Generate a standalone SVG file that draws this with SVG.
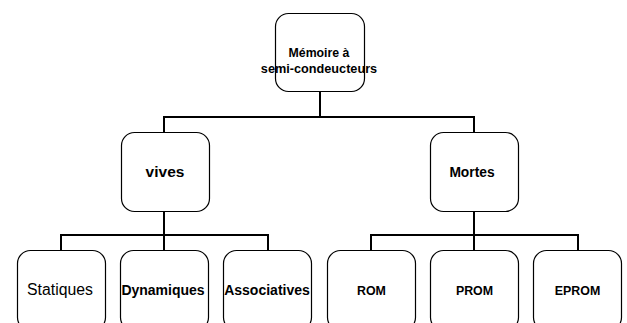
<svg xmlns="http://www.w3.org/2000/svg" width="627" height="323" viewBox="0 0 627 323">
<style>
.box{fill:#fff;stroke:#000;stroke-width:1.2}
.c{fill:none;stroke:#000;stroke-width:2;stroke-linecap:square}
text{font-family:"Liberation Sans",Arial,sans-serif;text-anchor:middle;fill:#000}
.b{font-weight:bold}
</style>
<rect width="627" height="323" fill="#fff"/>
<g id="connectors">
<path class="c" d="M320,91V117M164,117H474M164,117V132M474,117V132"/>
<path class="c" d="M164,211V235M61,235H268M61,235V250M164,235V250M268,235V250"/>
<path class="c" d="M474,211V235M371,235H578M371,235V250M474,235V250M578,235V250"/>
</g>
<g id="memoire">
<rect class="box" x="275.5" y="13.5" width="89" height="78" rx="13"/>
<text class="b" x="319" y="57" font-size="12.3">Mémoire à</text>
<text class="b" x="319" y="73" font-size="12.7">semi-condeucteurs</text>
</g>
<g id="vives">
<rect class="box" x="121.5" y="132.5" width="88" height="79" rx="13"/>
<text class="b" x="165" y="177" font-size="15.5">vives</text>
</g>
<g id="mortes">
<rect class="box" x="430.5" y="132.5" width="88" height="79" rx="13"/>
<text class="b" x="472" y="177" font-size="13.8">Mortes</text>
</g>
<g id="statiques">
<rect class="box" x="17.5" y="250.5" width="88" height="80" rx="13"/>
<text x="60" y="295" font-size="15.8">Statiques</text>
</g>
<g id="dynamiques">
<rect class="box" x="120.5" y="250.5" width="88" height="80" rx="13"/>
<text class="b" x="163" y="295" font-size="14">Dynamiques</text>
</g>
<g id="associatives">
<rect class="box" x="223.5" y="250.5" width="88" height="80" rx="13"/>
<text class="b" x="267" y="295" font-size="14">Associatives</text>
</g>
<g id="rom">
<rect class="box" x="327.5" y="250.5" width="88" height="80" rx="13"/>
<text class="b" x="371.5" y="295" font-size="12.4">ROM</text>
</g>
<g id="prom">
<rect class="box" x="430.5" y="250.5" width="88" height="80" rx="13"/>
<text class="b" x="474.5" y="295" font-size="12.4">PROM</text>
</g>
<g id="eprom">
<rect class="box" x="533.5" y="250.5" width="88" height="80" rx="13"/>
<text class="b" x="577.5" y="295" font-size="12.4">EPROM</text>
</g>
</svg>
